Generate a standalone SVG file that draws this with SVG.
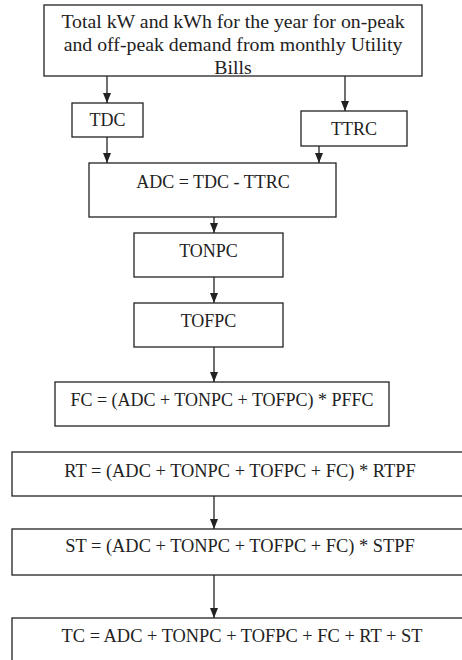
<svg xmlns="http://www.w3.org/2000/svg" width="462" height="660" viewBox="0 0 462 660">
<defs>
<marker id="ah" markerWidth="10" markerHeight="10" refX="10" refY="4" orient="auto" markerUnits="userSpaceOnUse">
<path d="M0,0 L10,4 L0,8 Z" fill="#222"/>
</marker>
<style>
.b{fill:#fff;stroke:#222;stroke-width:1.3}
.t{font-family:'Liberation Serif','Times New Roman',serif;font-size:18px;fill:#222;text-anchor:middle}
.big{font-size:19.8px}
.w{font-size:18.4px}
.c{stroke:#222;stroke-width:1.3;fill:none;marker-end:url(#ah)}
</style>
</defs>
<rect width="462" height="660" fill="#fff"/>
<g id="connectors">
<line class="c" x1="107" y1="76" x2="107" y2="103"/>
<line class="c" x1="345" y1="76" x2="345" y2="111"/>
<line class="c" x1="107" y1="137" x2="107" y2="163"/>
<line class="c" x1="319" y1="146" x2="319" y2="163"/>
<line class="c" x1="214" y1="217" x2="214" y2="233"/>
<line class="c" x1="214" y1="277" x2="214" y2="303"/>
<line class="c" x1="214" y1="347" x2="214" y2="382"/>
<line class="c" x1="214" y1="496" x2="214" y2="529"/>
<line class="c" x1="214" y1="575" x2="214" y2="618"/>
</g>
<g id="top">
<rect class="b" x="44" y="5" width="378" height="71"/>
<text class="t big" x="233" y="28">Total kW and kWh for the year for on-peak</text>
<text class="t big" x="233" y="51">and off-peak demand from monthly Utility</text>
<text class="t big" x="233" y="74">Bills</text>
</g>
<g id="tdc">
<rect class="b" x="72" y="103" width="71" height="34"/>
<text class="t" x="107.5" y="126">TDC</text>
</g>
<g id="ttrc">
<rect class="b" x="301" y="111" width="106" height="35"/>
<text class="t" x="354" y="135">TTRC</text>
</g>
<g id="adc">
<rect class="b" x="89" y="163" width="247" height="54"/>
<text class="t" x="213" y="188">ADC = TDC - TTRC</text>
</g>
<g id="tonpc">
<rect class="b" x="134" y="233" width="149" height="44"/>
<text class="t" x="208.5" y="257">TONPC</text>
</g>
<g id="tofpc">
<rect class="b" x="134" y="303" width="149" height="44"/>
<text class="t" x="208.5" y="327">TOFPC</text>
</g>
<g id="fc">
<rect class="b" x="55" y="382" width="334" height="44"/>
<text class="t" x="222" y="406">FC = (ADC + TONPC + TOFPC) * PFFC</text>
</g>
<g id="rt">
<rect class="b" x="12" y="452" width="470" height="44"/>
<text class="t w" x="240" y="477">RT = (ADC + TONPC + TOFPC + FC) * RTPF</text>
</g>
<g id="st">
<rect class="b" x="12" y="529" width="470" height="46"/>
<text class="t w" x="240" y="552">ST = (ADC + TONPC + TOFPC + FC) * STPF</text>
</g>
<g id="tc">
<rect class="b" x="12" y="618" width="470" height="60"/>
<text class="t w" x="242" y="642">TC = ADC + TONPC + TOFPC + FC + RT + ST</text>
</g>
</svg>
